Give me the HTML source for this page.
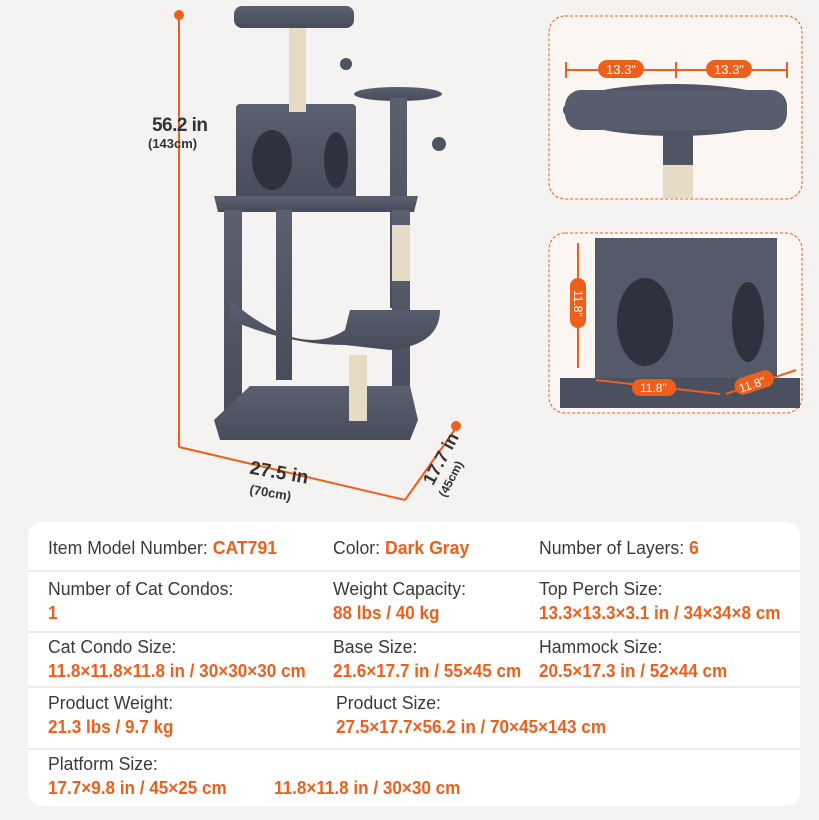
<!DOCTYPE html>
<html><head><meta charset="utf-8"><style>
body{margin:0;width:819px;height:820px;overflow:hidden;background:#f4f3f2;font-family:"Liberation Sans",sans-serif;position:relative}
.card{position:absolute;left:28px;top:522px;width:772px;height:284px;background:#fff;border-radius:14px}
.t{position:absolute;font-size:18px;color:#3a3a3a;white-space:nowrap;transform:scaleX(0.98);transform-origin:left top}
.o{color:#ee5f1c;font-weight:bold}
div.o{transform:scaleX(0.95)}
.l{position:absolute;left:28px;width:772px;height:2px;background:#ebebeb}
svg{position:absolute;left:0;top:0}
</style></head><body>
<svg width="819" height="520" viewBox="0 0 819 520">
<defs><linearGradient id="g" x1="0" y1="0" x2="0" y2="1"><stop offset="0" stop-color="#5b6070"/><stop offset="1" stop-color="#474c5a"/></linearGradient></defs>
<g stroke="#ee5f1c" stroke-width="2" fill="none">
<line x1="179" y1="15" x2="179" y2="447"/>
<line x1="179" y1="447" x2="405" y2="500"/>
<line x1="405" y1="500" x2="456" y2="428"/>
</g>
<circle cx="179" cy="15" r="5" fill="#ee5f1c"/><circle cx="456" cy="426" r="5" fill="#ee5f1c"/>
<text x="152" y="131" font-family="Liberation Sans,sans-serif" font-weight="bold" font-size="19" fill="#333" textLength="56">56.2 in</text>
<text x="148" y="148" font-family="Liberation Sans,sans-serif" font-weight="bold" font-size="13" fill="#333">(143cm)</text>
<text x="250" y="478" font-family="Liberation Sans,sans-serif" font-weight="bold" font-size="19" fill="#333" transform="rotate(10 275 470)">27.5 in</text>
<text x="250" y="498" font-family="Liberation Sans,sans-serif" font-weight="bold" font-size="13" fill="#333" transform="rotate(10 275 490)">(70cm)</text>
<text x="410" y="482" font-family="Liberation Sans,sans-serif" font-weight="bold" font-size="18" fill="#333" transform="rotate(-62 425 465)">17.7 in</text>
<text x="425" y="492" font-family="Liberation Sans,sans-serif" font-weight="bold" font-size="12" fill="#333" transform="rotate(-62 440 478)">(45cm)</text>
<g fill="url(#g)">
<rect x="234" y="6" width="120" height="22" rx="8"/>
<rect x="236" y="104" width="120" height="96" rx="4"/>
<ellipse cx="398" cy="94" rx="44" ry="7"/>
<rect x="390" y="98" width="17" height="210"/>
<path d="M214 196 L418 196 L414 212 L218 212Z"/>
<rect x="224" y="210" width="18" height="215"/>
<rect x="392" y="210" width="18" height="210"/>
<rect x="276" y="210" width="16" height="170"/>
<path d="M230 300 Q300 360 345 330 L350 310 L440 310 Q440 345 390 350 L345 345 Q290 345 230 320Z"/>
<path d="M214 420 L250 386 L410 386 L418 420 L410 440 L220 440Z"/>
</g>
<rect x="289" y="28" width="17" height="84" fill="#e6dcc6"/>
<rect x="349" y="355" width="18" height="66" fill="#e6dcc6"/>
<rect x="392" y="225" width="18" height="56" fill="#e6dcc6"/>
<ellipse cx="272" cy="160" rx="20" ry="30" fill="#2e323d"/>
<ellipse cx="336" cy="160" rx="12" ry="28" fill="#2e323d"/>
<circle cx="346" cy="64" r="6" fill="#4e5362"/><circle cx="439" cy="144" r="7" fill="#4e5362"/>
<rect x="549" y="16" width="253" height="183" rx="16" fill="#fbf6f2" stroke="#ee5f1c" stroke-dasharray="3 2"/>
<rect x="549" y="233" width="253" height="180" rx="16" fill="#fbf6f2" stroke="#ee5f1c" stroke-dasharray="3 2"/>
<ellipse cx="675" cy="110" rx="112" ry="26" fill="#4f5564"/>
<rect x="565" y="90" width="222" height="40" rx="16" fill="#575d6d"/>
<rect x="663" y="130" width="30" height="68" fill="#4f5564"/>
<rect x="663" y="165" width="30" height="33" fill="#e6dcc6"/>
<g stroke="#ee5f1c" stroke-width="2"><line x1="566" y1="70" x2="787" y2="70"/><line x1="566" y1="62" x2="566" y2="78"/><line x1="787" y1="62" x2="787" y2="78"/><line x1="676" y1="62" x2="676" y2="78"/></g>
<rect x="598" y="60" width="46" height="18" rx="9" fill="#ee5f1c"/><rect x="706" y="60" width="46" height="18" rx="9" fill="#ee5f1c"/>
<text x="606" y="74" font-family="Liberation Sans,sans-serif" font-size="13" fill="#fff">13.3"</text>
<text x="714" y="74" font-family="Liberation Sans,sans-serif" font-size="13" fill="#fff">13.3"</text>
<rect x="595" y="238" width="182" height="148" fill="#545a6a"/>
<rect x="560" y="378" width="240" height="30" fill="#4a5060"/>
<ellipse cx="645" cy="322" rx="28" ry="44" fill="#2e323d"/>
<ellipse cx="748" cy="322" rx="16" ry="40" fill="#2e323d"/>
<g stroke="#ee5f1c" stroke-width="2"><line x1="578" y1="243" x2="578" y2="368"/><line x1="596" y1="380" x2="720" y2="394"/><line x1="726" y1="394" x2="796" y2="370"/></g>
<rect x="570" y="278" width="16" height="50" rx="8" fill="#ee5f1c"/>
<text x="574" y="290" font-family="Liberation Sans,sans-serif" font-size="12" fill="#fff" transform="rotate(90 574 290)">11.8"</text>
<rect x="632" y="379" width="44" height="17" rx="8" fill="#ee5f1c"/><text x="640" y="392" font-family="Liberation Sans,sans-serif" font-size="12" fill="#fff">11.8"</text>
<rect x="734" y="374" width="40" height="17" rx="8" fill="#ee5f1c" transform="rotate(-18 754 382)"/><text x="738" y="388" font-family="Liberation Sans,sans-serif" font-size="12" fill="#fff" transform="rotate(-18 754 382)">11.8"</text>
</svg>
<div class="card"></div>
<div class="l" style="top:570px"></div><div class="l" style="top:631px"></div><div class="l" style="top:686px"></div><div class="l" style="top:748px"></div>
<div class="t" style="left:48px;top:538px">Item Model Number: <span class="o">CAT791</span></div>
<div class="t" style="left:333px;top:538px">Color: <span class="o">Dark Gray</span></div>
<div class="t" style="left:539px;top:538px">Number of Layers: <span class="o">6</span></div>
<div class="t" style="left:48px;top:579px">Number of Cat Condos:</div>
<div class="t o" style="left:48px;top:603px">1</div>
<div class="t" style="left:333px;top:579px">Weight Capacity:</div>
<div class="t o" style="left:333px;top:603px">88 lbs / 40 kg</div>
<div class="t" style="left:539px;top:579px">Top Perch Size:</div>
<div class="t o" style="left:539px;top:603px">13.3×13.3×3.1 in / 34×34×8 cm</div>
<div class="t" style="left:48px;top:637px">Cat Condo Size:</div>
<div class="t o" style="left:48px;top:661px">11.8×11.8×11.8 in / 30×30×30 cm</div>
<div class="t" style="left:333px;top:637px">Base Size:</div>
<div class="t o" style="left:333px;top:661px">21.6×17.7 in / 55×45 cm</div>
<div class="t" style="left:539px;top:637px">Hammock Size:</div>
<div class="t o" style="left:539px;top:661px">20.5×17.3 in / 52×44 cm</div>
<div class="t" style="left:48px;top:693px">Product Weight:</div>
<div class="t o" style="left:48px;top:717px">21.3 lbs / 9.7 kg</div>
<div class="t" style="left:336px;top:693px">Product Size:</div>
<div class="t o" style="left:336px;top:717px">27.5×17.7×56.2 in / 70×45×143 cm</div>
<div class="t" style="left:48px;top:754px">Platform Size:</div>
<div class="t o" style="left:48px;top:778px">17.7×9.8 in / 45×25 cm</div>
<div class="t o" style="left:274px;top:778px">11.8×11.8 in / 30×30 cm</div>
</body></html>
